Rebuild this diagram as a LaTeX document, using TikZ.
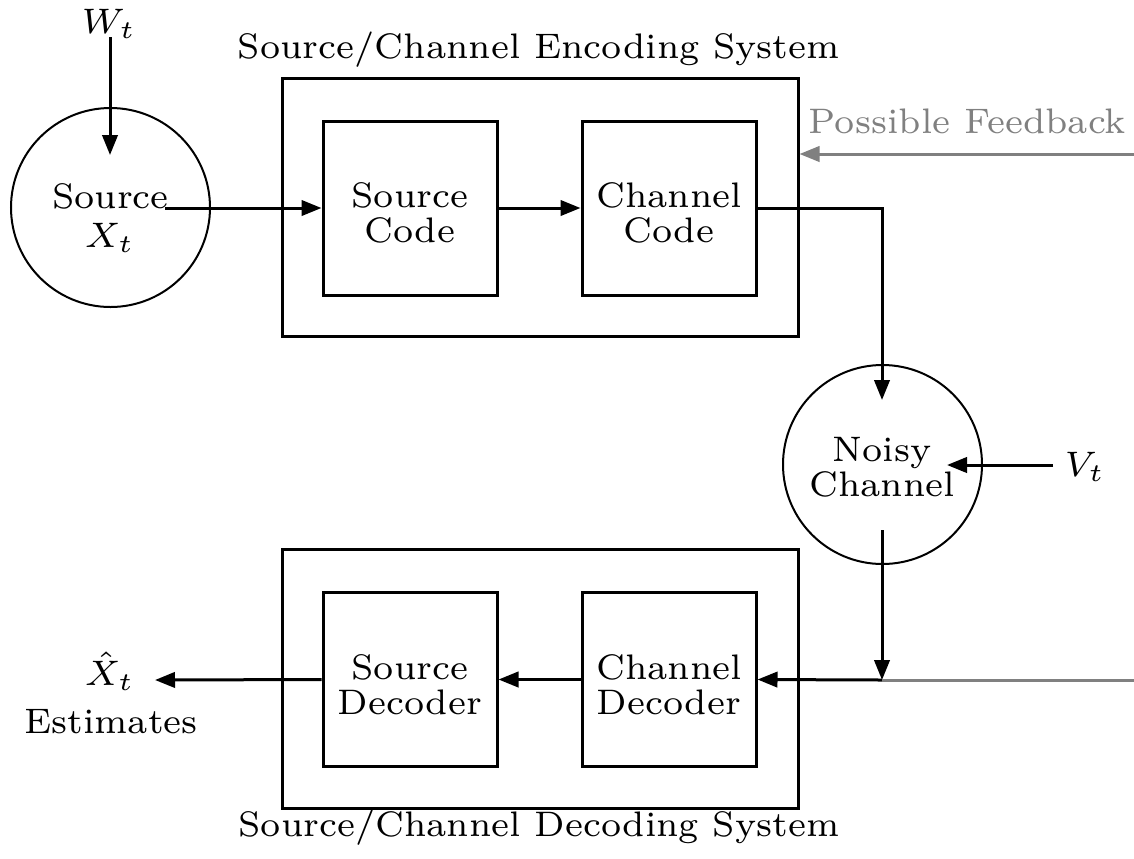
\documentclass[tikz,border=0pt]{standalone}
\usetikzlibrary{arrows.meta}
\newcommand{\sbx}[1]{\scalebox{3.8}{\fontsize{7}{6.7}\selectfont #1}}
\newcommand{\twol}[2]{\sbx{\begin{tabular}{@{}c@{}}#1\\#2\end{tabular}}}
\begin{document}
\begin{tikzpicture}[x=0.75pt,y=-0.75pt,
  txt/.style={inner sep=0pt, outer sep=0pt},
  fbtxt/.style={txt, text=gray},
  outerbox/.style={draw, line width=2.25pt, rectangle, minimum width=387pt, minimum height=194pt, inner sep=0pt},
  innerbox/.style={draw, line width=2.25pt, rectangle, minimum width=130.5pt, minimum height=130.5pt, inner sep=0pt},
  circ/.style={draw, line width=1.5pt, circle, minimum size=149.25pt, inner sep=0pt},
  conn/.style={line width=2.25pt, -{Triangle[length=15pt,width=11.5pt]}},
  fbconn/.style={conn, draw=gray},
  plain/.style={line width=2.25pt},
  fbplain/.style={plain, draw=gray}
]
\useasboundingbox (0,0) rectangle (1134,858);

% nodes
\node[circ] (src) at (110.5,207.5) {};
\node[txt, anchor=base] (srclbl) at (110.5,208) {\sbx{Source}};
\node[txt, anchor=base] (xlbl) at (110,247) {\sbx{$X_t$}};
\node[txt, anchor=base] (wlbl) at (109,33) {\sbx{$W_t$}};

\node[outerbox] (enc) at (540,207.5) {};
\node[txt, anchor=base] (enctitle) at (539,58) {\sbx{Source/Channel Encoding System}};
\node[innerbox] (scode) at (410,208) {};
\node[txt] (scodelbl) at (410,218) {\twol{Source}{Code}};
\node[innerbox] (ccode) at (669,208) {};
\node[txt] (ccodelbl) at (669,218) {\twol{Channel}{Code}};

\node[fbtxt, anchor=base] (fblbl) at (967.5,133) {\sbx{Possible Feedback}};

\node[circ] (noisy) at (882.5,464.5) {};
\node[txt] (noisylbl) at (882,472) {\twol{Noisy}{Channel}};
\node[txt, anchor=base] (vlbl) at (1085,476) {\sbx{$V_t$}};

\node[outerbox] (dec) at (540,679) {};
\node[txt, anchor=base] (dectitle) at (539,836) {\sbx{Source/Channel Decoding System}};
\node[innerbox] (sdec) at (410,679.5) {};
\node[txt] (sdeclbl) at (410,690) {\twol{Source}{Decoder}};
\node[innerbox] (cdec) at (669,679.5) {};
\node[txt] (cdeclbl) at (669,690) {\twol{Channel}{Decoder}};

\node[txt, anchor=base] (xhat) at (110,685) {\sbx{$\hat{X}_t$}};
\node[txt, anchor=base] (estlbl) at (111,733) {\sbx{Estimates}};

% free-end coordinates
\coordinate (wstart) at (110,37);
\coordinate (wend) at (110,155);
\coordinate (srcout) at (165,208);
\coordinate (chin) at (882,400);
\coordinate (vstart) at (1053,465);
\coordinate (vend) at (947,465);
\coordinate (chout) at (882,530);
\coordinate (jn) at (882,680);
\coordinate (fbout) at (1134,680);
\coordinate (fbin) at (1134,154);
\coordinate (xend) at (155,680);

% connectors
\draw[conn] (wstart) -- (wend);
\draw[conn] (srcout) -- (scode.west);
\draw[conn] (scode.east) -- (ccode.west);
\draw[conn] (ccode.east) -| (chin);
\draw[conn] (vstart) -- (vend);
\draw[conn] (chout) -- (jn);
\draw[conn] (jn) -- (cdec.east);
\draw[fbplain] (jn) -- (fbout);
\draw[fbconn] (fbin) -- (fbin -| enc.east);
\draw[conn] (cdec.west) -- (sdec.east);
\draw[conn] (sdec.west) -- (xend);
\end{tikzpicture}
\end{document}
